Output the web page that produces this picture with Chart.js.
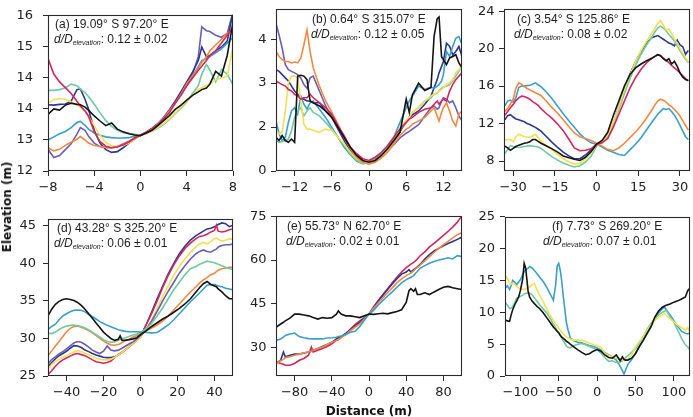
<!DOCTYPE html>
<html><head><meta charset="utf-8">
<script src="https://cdn.jsdelivr.net/npm/chart.js@4.4.0/dist/chart.umd.min.js"></script>
<style>
html,body{margin:0;padding:0;background:#fff;}
#wrap{position:relative;width:693px;height:417px;overflow:hidden;background:#fff;}
#wrap canvas{position:absolute;}
.lab{position:absolute;font-family:"DejaVu Sans",sans-serif;font-weight:bold;font-size:12px;color:#111;white-space:nowrap;line-height:14px;}
#ylab{left:7px;top:207px;transform:translate(-50%,-50%) rotate(-90deg);}
#xlab{left:369px;top:411px;transform:translate(-50%,-50%);}
</style></head><body>
<div id="wrap">
<canvas id="ca"></canvas><canvas id="cb"></canvas><canvas id="cc"></canvas>
<canvas id="cd"></canvas><canvas id="ce"></canvas><canvas id="cf"></canvas>
<div class="lab" id="ylab">Elevation (m)</div>
<div class="lab" id="xlab">Distance (m)</div>
</div>
<script>
// ---------- panel (a) ----------
const xA = [-8,-7.5,-7,-6.5,-6,-5.5,-5.2,-4.8,-4.5,-4,-3.5,-3,-2.5,-2,-1.5,-1,-0.5,0,0.5,1,1.5,2,2.5,3,3.5,4,4.5,5,5.3,5.7,6,6.5,7,7.5,8];
const aBlack = [13.46,13.6,13.57,13.7,13.75,13.72,13.71,13.65,13.57,13.42,13.29,13.17,13.24,13.08,13.01,12.96,12.93,12.91,12.98,13.05,13.17,13.3,13.43,13.59,13.7,13.83,13.95,14.04,14.1,14.14,14.24,14.57,14.45,14.98,15.84];
const aRed = [14.9,14.5,14.3,14.15,14.0,13.8,13.68,13.55,13.42,13.01,12.76,12.64,12.6,12.62,12.68,12.75,12.85,12.93,13.0,13.1,13.2,13.35,13.5,13.75,13.95,14.2,14.4,14.6,14.7,14.85,14.98,15.1,15.3,15.5,15.72];
const aOrange = [12.6,12.52,12.56,12.66,12.74,12.82,12.89,12.8,12.72,12.66,12.63,12.61,12.6,12.63,12.68,12.76,12.84,12.92,12.98,13.08,13.2,13.35,13.55,13.75,13.98,14.25,14.45,14.65,14.8,14.95,15.1,15.25,15.4,15.55,15.65];
const aYellow = [13.75,13.84,13.87,13.85,13.78,13.7,13.65,13.55,13.4,13.17,12.92,12.74,12.65,12.64,12.66,12.72,12.82,12.92,12.97,13.03,13.12,13.22,13.35,13.5,13.65,13.8,13.95,14.1,14.15,14.2,14.25,14.35,14.4,14.45,15.2];
const aGreen = [14.08,14.08,14.1,14.15,14.24,14.2,14.12,14.02,13.92,13.72,13.5,13.3,13.15,13.05,12.99,12.97,12.95,12.93,12.97,13.03,13.1,13.2,13.33,13.48,13.62,13.78,14.0,14.2,14.5,14.75,14.6,14.3,14.62,14.5,14.22];
const aLightBlue = [12.8,12.88,12.96,13.02,13.12,13.25,13.28,13.18,13.08,12.98,12.92,12.88,12.86,12.85,12.85,12.86,12.9,12.93,13.0,13.1,13.22,13.37,13.55,13.75,13.97,14.2,14.45,14.7,14.85,14.9,14.95,15.05,15.15,15.3,15.45];
const aNavy = [13.71,13.7,13.72,13.73,13.8,14.1,14.12,13.85,13.6,13.05,12.72,12.55,12.48,12.5,12.6,12.72,12.83,12.92,13.0,13.1,13.22,13.38,13.58,13.8,14.05,14.3,14.55,14.85,15.2,14.95,14.98,15.1,15.2,15.35,16.1];
const aPurple = [12.56,12.35,12.4,12.55,12.7,12.95,13.12,13.05,12.9,12.72,12.63,12.6,12.6,12.63,12.7,12.77,12.85,12.92,12.98,13.07,13.2,13.35,13.55,13.75,14.0,14.25,14.5,14.95,15.72,15.62,15.6,15.5,15.45,15.55,16.1];
const aXTicks = [-8,-4,0,4,8], aXLabels = ['−8','−4','0','4','8'];
const aYTicks = [12,12.8,13.6,14.4,15.2,16], aYLabels = ['12','13','14','14','15','16'];

// ---------- panel (b) ----------
const xB = [-15,-14.5,-14,-13.5,-13,-12.5,-12,-11.5,-11,-10.5,-10,-9.5,-9,-8,-7,-6,-5,-4,-3,-2,-1,0,1,2,3,4,5,6,6.5,7,8,9,10,10.5,11,11.3,11.7,12,12.5,13,13.5,14,14.5,15];
const bBlack = [1.15,1.04,1.21,1.04,0.98,1.09,0.98,3.24,3.27,3.24,3.12,2.39,2.33, 2.22,2.05,1.83,1.49,1.15,0.81,0.53,0.36,0.3, 0.36,0.53,0.76,1.04,1.32,2.45, 2.0,2.6,3.0,2.75,2.85, 4.6,5.2,5.26,3.9,3.8, 3.63,3.86,3.91,3.97,3.69,3.52];
const bRed = [3.07,3.01,2.95,2.9,2.78,2.73,2.62,2.56,2.45,2.5,2.5,2.62,2.5, 2.33,2.16,1.94,1.54,1.21,0.81,0.59,0.42,0.36, 0.47,0.64,0.87,1.15,1.43,1.66, 1.77,1.83,2.0,2.11,2.16, 2.28,2.39,2.28,2.39,2.45, 2.39,2.73,2.95,3.12,3.24,3.35];
const bOrange = [4.08,3.91,3.8,3.74,3.74,3.69,3.72,3.69,3.86,4.31,4.81,4.08,3.52, 2.9,2.39,2.0,1.6,1.15,0.76,0.47,0.3,0.23, 0.3,0.45,0.64,0.92,1.21,1.43, 1.49,1.6,1.71,1.83,2.05, 2.16,1.88,1.71,2.0,2.16, 2.33,2.05,1.71,1.54,1.94,2.05];
const bYellow = [1.38,1.26,1.32,2.05,3.01,3.24,3.24,3.18,2.39,1.6,1.43,1.43,1.38, 1.32,1.43,1.38,1.15,0.92,0.64,0.42,0.3,0.27, 0.36,0.5,0.7,1.04,1.49,1.71, 1.83,2.0,2.16,2.39,2.56, 2.62,2.67,2.73,2.78,2.84, 2.95,3.01,3.12,3.35,3.46,3.52];
const bGreen = [1.04,0.98,1.01,1.04,1.09,1.38,1.83,2.05,2.16,1.88,2.05,2.16,2.0, 1.88,1.66,1.43,1.15,0.87,0.59,0.36,0.25,0.3, 0.38,0.56,0.79,1.06,1.38,1.69, 1.85,2.0,2.16,2.39,2.5, 2.62,2.67,2.75,2.82,2.86, 2.9,2.95,3.07,3.24,3.4,3.57];
const bLightBlue = [1.71,1.26,1.04,1.15,1.66,2.05,2.16,1.94,2.56,2.28,2.11,2.33,2.39, 2.11,1.83,1.49,1.15,0.81,0.56,0.34,0.25,0.29, 0.41,0.59,0.81,1.15,1.66,2.16, 2.39,2.56,2.9,2.78,2.86, 2.82,2.9,2.95,3.07,3.29, 4.08,3.91,4.25,4.53,4.59,4.31];
const bNavy = [3.46,3.4,3.29,3.18,3.07,2.9,2.73,2.62,2.5,2.45,2.39,2.39,2.33, 2.33,2.05,1.83,1.43,1.04,0.7,0.42,0.27,0.29, 0.36,0.52,0.7,1.01,1.35,1.69, 1.8,1.92,2.05,2.28,2.56, 2.84,3.12,3.35,3.57,3.74, 4.36,4.25,3.97,4.08,4.25,3.91];
const bPurple = [5.04,4.64,4.19,3.63,3.46,3.4,3.35,3.29,3.18,2.95,2.82,3.18,3.24, 2.73,2.22,1.83,1.49,1.09,0.7,0.42,0.3,0.3, 0.41,0.56,0.7,0.9,1.13,1.29, 1.35,1.43,1.58,1.88,2.16, 2.22,2.11,2.16,2.39,2.5, 2.45,2.33,2.39,2.16,1.88,1.71];
const bXTicks = [-12,-6,0,6,12], bXLabels = ['−12','−6','0','6','12'];
const bYTicks = [0,1.5,3,4.5], bYLabels = ['0','2','3','4'];

// ---------- panel (c) ----------
const xC = [-33,-32,-31,-30,-29,-28,-27,-26,-25,-24,-23,-22,-21,-20,-18,-16,-14,-12,-10,-8,-6,-4,-2,0,2,4,6,8,10,12,14,16,18,20,21,22,23,24,25,26,27,28,29,30,31,32,33];
const cBlack = [9.6,9.4,9.15,9.35,9.55,9.7,9.8,9.9,9.95,10.05,10.3,10.3,10.1,9.9, 9.6,9.3,8.95,8.55,8.35,8.2,8.07,8.4,9.0,9.8, 10.2,11.07,12.83,14.41,16.0,17.23,17.94,18.36,18.71,19.0, 19.17,19.35,19.24,18.92,18.71,18.92,18.36,18.64,18.11,17.41,16.95,16.7,16.6];
const cRed = [12.9,13.3,13.7,14.05,14.45,14.75,14.94,14.9,14.75,14.6,14.35,14.15,13.95,13.6, 13.05,12.55,11.95,11.25,10.35,9.4,9.1,9.15,9.3,9.8, 9.95,10.4,11.6,13.0,14.4,15.8,16.9,17.8,18.5,19.0, 19.2,19.35,19.25,19.0,18.75,18.5,18.2,17.95,17.7,17.4,17.1,16.8,16.55];
const cOrange = [13.3,13.6,14.1,14.6,15.8,16.35,16.2,15.95,15.75,15.6,15.45,15.3,15.15,15.0, 14.35,13.7,13.1,12.4,11.7,11.0,10.6,10.4,10.2,9.9, 9.6,9.25,9.1,9.4,9.9,10.5,11.1,11.8,12.6,13.5, 14.0,14.4,14.6,14.5,14.3,14.0,13.8,13.5,13.2,12.8,12.3,11.8,11.3];
const cYellow = [10.25,10.3,10.3,10.05,10.6,10.85,10.75,10.6,10.55,10.55,10.7,10.85,10.5,10.15, 9.6,9.2,8.7,8.25,7.9,7.7,7.75,8.25,8.9,9.8, 10.1,10.8,12.1,13.8,15.6,17.2,18.6,19.8,20.8,21.7, 22.2,22.7,23.0,22.5,22.0,22.1,21.6,21.0,20.6,20.0,19.5,19.0,18.6];
const cGreen = [8.8,9.2,9.65,9.55,9.48,9.45,9.5,9.55,9.6,9.65,9.6,9.55,9.5,9.35, 8.9,8.45,8.1,7.8,7.55,7.37,7.5,7.9,8.5,9.6, 10.0,10.7,11.9,13.5,15.2,16.8,18.2,19.4,20.4,21.3, 21.8,22.2,22.4,22.2,21.9,21.5,21.2,20.8,20.3,19.8,19.3,18.9,18.5];
const cLightBlue = [13.9,14.4,14.5,14.3,14.8,15.85,16.0,16.0,16.05,16.1,16.2,16.35,16.15,15.95, 15.35,14.65,13.85,13.05,12.3,11.6,10.9,10.35,9.95,9.8, 9.5,9.15,8.95,8.7,8.6,9.2,9.8,10.5,11.35,12.2, 12.6,13.0,13.3,13.6,13.5,13.6,13.3,12.9,12.4,11.8,11.2,10.6,10.3];
const cNavy = [12.4,12.85,12.95,12.7,12.5,12.4,12.3,12.2,12.0,11.9,11.75,11.6,11.4,11.2, 10.6,10.0,9.45,8.95,8.55,8.25,8.25,8.65,9.2,9.8, 10.0,10.7,12.0,13.8,15.6,17.3,18.6,19.7,20.6,21.2, 21.3,21.4,21.2,21.0,20.8,20.6,20.5,20.3,20.9,20.4,20.2,19.4,19.8];
const cXTicks = [-30,-15,0,15,30], cXLabels = ['−30','−15','0','15','30'];
const cYTicks = [8,12,16,20,24], cYLabels = ['8','12','16','20','24'];

// ---------- panel (d) ----------
const xD = [-50,-48,-46,-44,-42,-40,-38,-36,-34,-32,-30,-28,-26,-24,-22,-20,-18,-16,-14,-12,-11,-10,-8,-6,-4,-2,0,3,6,9,12,15,18,21,24,27,30,32,34,36,38,40,41,42,44,46,48,50];
const dBlack = [33.0,33.9,34.55,34.95,35.2,35.3,35.2,35.05,34.8,34.4,33.9,33.3,32.7,32.05,31.45,30.85,30.4,30.0,29.75,29.9,30.35,29.75,29.78,29.85,29.95,30.1,30.5, 31.0,31.6,32.1,32.6,33.0,33.5,34.0,34.6,35.3,36.2,36.8,37.3,37.6,37.2,37.0,36.9,36.6,36.2,35.7,35.3,35.3];
const dLightBlue = [31.2,31.6,31.9,32.5,33.0,33.3,33.55,33.75,33.8,33.75,33.55,33.2,32.9,32.6,32.25,32.0,31.75,31.55,31.35,31.15,31.1,31.05,30.95,30.9,30.9,30.9,30.85, 30.8,30.75,30.8,31.3,31.8,32.5,33.3,34.1,34.9,35.6,36.1,36.6,37.1,37.2,37.2,37.1,37.0,36.9,36.7,36.6,36.5];
const dGreen = [30.7,30.65,30.85,31.2,31.45,31.65,31.75,31.8,31.7,31.6,31.4,31.15,30.85,30.5,30.2,29.85,29.6,29.5,29.55,29.75,29.85,29.95,30.1,30.3,30.45,30.6,30.8, 31.3,32.0,33.0,34.1,35.3,36.5,37.5,38.5,39.3,39.6,39.9,40.1,40.3,40.2,40.1,40.0,39.9,39.7,39.5,39.3,39.2];
const dOrange = [27.7,28.35,29.0,29.6,30.25,30.9,31.35,31.6,31.65,31.5,31.3,31.05,30.75,30.4,30.0,29.65,29.35,29.15,29.1,29.2,29.3,29.45,29.7,29.95,30.2,30.4,30.6, 31.0,31.4,31.8,32.3,33.0,33.8,34.6,35.4,36.2,36.9,37.4,37.8,38.1,38.5,38.7,38.9,39.1,39.3,39.4,39.5,39.5];
const dPurple = [26.6,27.2,27.55,27.95,28.25,28.6,29.0,29.4,29.6,29.5,29.2,28.85,28.45,28.2,28.0,28.3,29.0,28.45,28.35,28.45,28.55,28.7,29.0,29.3,29.55,29.95,30.4, 31.2,32.3,33.6,35.0,36.3,37.5,38.7,39.7,40.6,41.3,41.6,41.8,41.6,41.5,41.8,41.9,42.2,42.4,42.5,42.5,42.6];
const dYellow = [25.9,26.55,26.95,27.25,27.5,27.75,27.95,28.2,28.4,28.25,28.05,27.85,27.6,27.4,27.25,27.15,27.15,27.25,27.5,27.8,27.95,28.15,28.55,28.95,29.35,29.75,30.15, 31.3,32.5,34.0,35.6,37.0,38.4,39.6,40.6,41.5,42.2,42.6,42.8,42.6,42.9,43.3,43.4,43.2,43.0,43.1,43.3,43.2];
const dRed = [25.2,25.7,26.3,26.8,27.15,27.4,27.65,27.9,28.0,27.85,27.7,27.45,27.15,26.9,26.8,26.7,26.8,27.0,27.45,27.85,28.0,28.15,28.55,28.95,29.35,29.75,30.2, 31.8,33.3,35.0,36.8,38.4,39.8,41.0,42.0,42.7,43.3,43.6,43.7,43.9,44.2,44.4,45.1,44.3,44.2,44.3,44.5,44.6];
const dNavy = [26.2,26.8,27.3,27.7,28.0,28.3,28.7,29.05,29.0,28.8,28.45,28.25,28.0,27.8,27.65,27.5,27.45,27.45,27.55,27.8,27.95,28.15,28.5,28.95,29.35,29.8,30.3, 31.8,33.5,35.3,37.0,38.6,40.0,41.3,42.3,43.1,43.7,44.0,44.3,44.6,44.7,44.9,45.0,45.2,45.4,45.3,44.9,45.1];
const dXTicks = [-40,-20,0,20,40], dXLabels = ['−40','−20','0','20','40'];
const dYTicks = [25,30,35,40,45], dYLabels = ['25','30','35','40','45'];

// ---------- panel (e) ----------
const xE = [-100,-95,-92,-90,-85,-80,-75,-70,-65,-62,-60,-55,-50,-45,-40,-35,-33,-30,-25,-20,-15,-10,-5,0,5,10,15,20,25,30,35,40,43,45,48,50,52,55,60,65,70,75,80,85,90,95,100];
const eBlack = [37.0,38.1,38.7,39.2,40.1,41.5,41.5,41.2,40.9,40.6, 40.3,39.8,40.3,40.1,40.3,41.5,42.6,41.5,40.9,40.9, 40.6,40.3,40.9,41.5,41.4,41.6,41.8,41.6,42.0,42.4, 43.0,45.5,49.5,50.2,49.3,50.2,48.2,48.2,48.8,48.2, 49.1,49.9,50.7,51.0,50.5,50.2,49.9];
const eLightBlue = [32.5,33.0,33.6,34.2,34.7,35.0,33.8,33.4,33.1,33.0, 33.0,33.0,33.0,33.3,33.4,33.6,33.8,34.0,34.5,35.3, 35.6,37.2,39.4,41.5,42.8,44.6,46.2,47.7,49.1,50.7, 52.2,53.3,53.8,54.1,54.7,55.5,56.1,57.2,58.1,58.9, 59.5,60.0,60.4,60.8,60.4,61.5,61.2];
const eOrange = [24.6,25.5,26.0,26.6,26.9,27.4,27.8,28.2,28.5,28.8, 29.1,29.7,30.2,31.1,31.9,32.5,32.8,33.4,34.5,35.8, 37.0,38.1,39.8,41.5,43.5,45.4,47.1,48.8,50.5,52.2, 53.6,54.7,55.2,55.5,56.3,57.0,57.4,58.3,59.7,61.2, 62.6,64.0,65.3,66.4,67.6,68.7,69.4];
const eNavy = [24.6,25.7,28.5,26.9,27.4,27.8,27.8,28.2,28.5,28.8, 29.1,29.7,30.4,31.1,31.9,33.0,33.4,33.8,34.9,36.1, 37.5,38.7,40.1,41.5,43.7,46.0,48.0,49.9,51.8,53.6, 55.2,55.9,56.7,55.9,56.7,57.2,57.7,58.5,60.4,61.9, 63.1,64.0,64.9,65.7,66.4,67.1,67.9];
const eRed = [25.2,24.6,24.3,24.0,24.0,24.6,25.7,26.3,27.4,30.2, 28.5,29.1,29.7,30.4,31.3,32.5,32.8,33.6,34.7,36.4, 37.9,39.2,40.3,41.5,44.0,46.2,48.2,50.2,52.2,54.1, 55.9,57.4,58.1,58.6,59.2,59.7,60.4,61.5,62.8,64.5, 65.7,67.1,68.5,69.8,71.3,73.0,75.2];
const eXTicks = [-80,-40,0,40,80], eXLabels = ['−80','−40','0','40','80'];
const eYTicks = [30,45,60,75], eYLabels = ['30','45','60','75'];

// ---------- panel (f) ----------
const xF = [-120,-117,-114,-112,-110,-107,-105,-102,-100,-97,-95,-93,-90,-88,-85,-82,-80,-78,-75,-70,-65,-60,-57,-54,-52,-50,-48,-46,-44,-42,-40,-38,-35,-30,-25,-20,-15,-10,-5,0,5,10,15,20,25,30,33,35,37,40,45,50,55,60,65,70,75,80,85,88,90,95,100,105,110,115,118,120];
const fBlack = [8.85,8.65,8.6,9.6,10.4,11.27,11.7,12.5,13.4,15.2, 17.7,16.9,13.4,12.4,11.8,11.4,11.15,10.9,10.6,9.9, 9.05,8.2,7.7,7.3,7.0,6.8,6.4,6.1,5.9,5.7, 5.45,5.3,5.0,4.55,4.1,3.7,3.35,3.5,3.9,4.15, 3.9,3.3,2.9,2.8,3.3,2.4,3.0,2.6,2.5,2.5, 2.8,3.5,4.6,5.6,6.7,7.7,9.2,10.2,10.8,11.0, 11.1,11.3,11.6,11.8,12.1,12.4,13.4,13.7];
const fYellow = [15.8,15.4,14.4,14.4,14.6,14.4,14.1,13.8,13.7,13.6, 13.6,13.7,13.8,14.0,14.3,14.5,14.0,13.4,12.7,11.6, 10.4,9.3,8.7,8.2,7.9,7.5,7.2,6.9,6.6,6.4, 6.15,6.0,5.8,5.6,5.65,5.6,5.4,5.15,4.95,4.75, 4.5,3.6,3.2,3.0,2.8,2.7,2.5,2.4,2.5,2.7, 3.3,4.6,5.4,6.2,7.1,8.0,8.7,9.2,9.6,9.8, 9.5,9.0,8.5,8.0,7.6,7.2,7.6,7.1];
const fGreen = [11.6,11.15,10.6,10.65,10.9,11.6,12.2,12.35,12.5,12.7, 12.85,13.0,13.05,13.0,12.8,12.3,12.0,11.7,11.2,10.5, 9.8,8.8,8.2,7.5,7.1,6.7,6.3,5.9,5.5,5.1, 4.7,4.5,4.4,4.8,5.0,5.1,4.9,4.65,4.4,4.15, 3.6,2.9,2.3,2.4,2.1,2.2,2.4,2.6,2.9,3.2, 3.7,4.3,5.2,6.2,7.3,8.2,8.9,9.6,10.0,10.2, 10.3,9.3,8.4,7.2,5.9,4.9,4.6,4.2];
const fLightBlue = [13.7,14.2,13.6,14.2,15.0,14.7,14.3,14.8,15.1,15.9, 16.4,16.7,16.9,17.15,17.0,16.6,16.35,16.0,15.55,14.8, 13.8,12.6,11.9,14.3,17.3,17.7,16.6,14.8,12.4,10.4, 8.4,7.3,6.0,5.5,5.3,5.2,5.0,4.8,4.65,4.4, 4.1,3.7,3.3,3.0,2.5,1.5,0.8,0.3,0.9,1.8, 2.6,3.6,4.7,5.6,6.6,7.7,8.9,9.9,10.6,10.8, 10.4,9.6,8.7,7.8,7.0,6.7,6.6,6.7];
const fXTicks = [-100,-50,0,50,100], fXLabels = ['−100','−50','0','50','100'];
const fYTicks = [0,5,10,15,20,25], fYLabels = ['0','5','10','15','20','25'];

// ---------- labels ----------
const panelTags = ['(a) 19.09° S 97.20° E','(b) 0.64° S 315.07° E','(c) 3.54° S 125.86° E','(d) 43.28° S 325.20° E','(e) 55.73° N 62.70° E','(f) 7.73° S 269.20° E'];
const ddValues = ['0.12 ± 0.02','0.12 ± 0.05','0.08 ± 0.02','0.06 ± 0.01','0.02 ± 0.01','0.07 ± 0.01'];

// ---------- styles ----------
const COL = {black:'#141414', red:'#d7265b', orange:'#f4883f', yellow:'#f3df52', green:'#6fcaa2', lightblue:'#3a9fcb', navy:'#2a3890', purple:'#6b5db7'};
const TICKFONT = {family:'"DejaVu Sans", sans-serif', size:13};
const PADL = 45, PADT = 10, PADR = 15, PADB = 30;

const panels = [
  {id:'ca', L:48, T:7, W:185, H:164, x:xA, xr:[-8,8], yr:[12,16.03], xt:aXTicks, xl:aXLabels, yt:aYTicks, yl:aYLabels, tx1:7, tx2:6, ypad:10,
   s:[[aBlack,'black'],[aRed,'red'],[aOrange,'orange'],[aYellow,'yellow'],[aGreen,'green'],[aLightBlue,'lightblue'],[aNavy,'navy'],[aPurple,'purple']]},
  {id:'cb', L:276, T:7, W:186, H:164, x:xB, xr:[-15,15], yr:[0,5.52], xt:bXTicks, xl:bXLabels, yt:bYTicks, yl:bYLabels, tx1:36, tx2:35, ypad:4.5,
   s:[[bBlack,'black'],[bRed,'red'],[bOrange,'orange'],[bYellow,'yellow'],[bGreen,'green'],[bLightBlue,'lightblue'],[bNavy,'navy'],[bPurple,'purple']]},
  {id:'cc', L:504, T:7, W:186, H:164, x:xC, xr:[-33.3,33.6], yr:[6.94,24.2], xt:cXTicks, xl:cXLabels, yt:cYTicks, yl:cYLabels, tx1:13, tx2:10, ypad:4.5,
   s:[[cBlack,'black'],[cRed,'red'],[cOrange,'orange'],[cYellow,'yellow'],[cGreen,'green'],[cLightBlue,'lightblue'],[cNavy,'navy']]},
  {id:'cd', L:48, T:214, W:185, H:162, x:xD, xr:[-50,50], yr:[25,45.95], xt:dXTicks, xl:dXLabels, yt:dYTicks, yl:dYLabels, tx1:9, tx2:6, ypad:7,
   s:[[dBlack,'black'],[dLightBlue,'lightblue'],[dGreen,'green'],[dOrange,'orange'],[dPurple,'purple'],[dYellow,'yellow'],[dRed,'red'],[dNavy,'navy']]},
  {id:'ce', L:276, T:214, W:186, H:162, x:xE, xr:[-100,100], yr:[20.3,75], xt:eXTicks, xl:eXLabels, yt:eYTicks, yl:eYLabels, tx1:11, tx2:10, ypad:4.5,
   s:[[eBlack,'black'],[eLightBlue,'lightblue'],[eOrange,'orange'],[eNavy,'navy'],[eRed,'red']]},
  {id:'cf', L:505, T:214, W:185, H:162, x:xF, xr:[-120,121], yr:[0,25], xt:fXTicks, xl:fXLabels, yt:fYTicks, yl:fYLabels, tx1:47, tx2:38, ypad:5,
   s:[[fBlack,'black'],[fYellow,'yellow'],[fGreen,'green'],[fLightBlue,'lightblue']]}
];

const framePlugin = {
  id:'frame',
  afterDatasetsDraw(chart){
    const a = chart.chartArea, ctx = chart.ctx;
    ctx.save(); ctx.strokeStyle = '#2a2a2a'; ctx.lineWidth = 1.1;
    ctx.strokeRect(Math.round(a.left)+0.5, Math.round(a.top)+0.5, Math.round(a.right-a.left)-1, Math.round(a.bottom-a.top)-1);
    ctx.restore();
  }
};

function makeAnnot(idx, p){
  return {
    id:'annot'+idx,
    afterDraw(chart){
      const a = chart.chartArea, ctx = chart.ctx;
      ctx.save();
      ctx.fillStyle = '#1e1e1e'; ctx.textBaseline = 'middle'; ctx.textAlign = 'left';
      ctx.font = '12px "Liberation Sans", Arial, sans-serif';
      ctx.fillText(panelTags[idx], a.left + p.tx1, a.top + 10);
      let x = a.left + p.tx2; const y = a.top + 25;
      ctx.font = 'italic 12px "Liberation Sans", Arial, sans-serif';
      ctx.fillText('d/D', x, y); x += ctx.measureText('d/D').width;
      ctx.font = 'italic 7px "Liberation Sans", Arial, sans-serif';
      ctx.fillText('elevation', x, y + 3.5); x += ctx.measureText('elevation').width;
      ctx.font = '12px "Liberation Sans", Arial, sans-serif';
      ctx.fillText(': ' + ddValues[idx], x, y);
      ctx.restore();
    }
  };
}

panels.forEach((p, idx) => {
  const cv = document.getElementById(p.id);
  const cw = PADL + p.W + PADR, ch = PADT + p.H + PADB;
  cv.width = cw; cv.height = ch;
  cv.style.width = cw + 'px'; cv.style.height = ch + 'px';
  cv.style.left = (p.L - PADL) + 'px'; cv.style.top = (p.T - PADT) + 'px';
  const datasets = p.s.map(([vals, key]) => ({
    data: p.x.map((xv, i) => ({x: xv, y: vals[i]})),
    borderColor: COL[key], borderWidth: 1.6, pointRadius: 0, tension: 0, fill: false
  }));
  const axisCommon = {
    type:'linear', grace:0,
    grid:{drawOnChartArea:false, drawTicks:true, tickLength:5, color:'#2a2a2a', lineWidth:1},
    border:{display:false}
  };
  new Chart(cv, {
    type:'line',
    data:{datasets},
    options:{
      responsive:false, animation:false, events:[], devicePixelRatio:1,
      layout:{padding:{left:0, top:PADT, right:PADR, bottom:0}},
      plugins:{legend:{display:false}, tooltip:{enabled:false}},
      scales:{
        x:Object.assign({}, axisCommon, {
          min:p.xr[0], max:p.xr[1],
          afterBuildTicks: ax => { ax.ticks = p.xt.map(v => ({value:v})); },
          ticks:{callback:(v, i) => p.xl[i], autoSkip:false, maxRotation:0, padding:4, font:TICKFONT, color:'#222'},
          afterFit: s => { s.height = PADB; }
        }),
        y:Object.assign({}, axisCommon, {
          min:p.yr[0], max:p.yr[1],
          afterBuildTicks: ax => { ax.ticks = p.yt.map(v => ({value:v})); },
          ticks:{callback:(v, i) => p.yl[i], autoSkip:false, padding:p.ypad, font:TICKFONT, color:'#222'},
          afterFit: s => { s.width = PADL; }
        })
      }
    },
    plugins:[framePlugin, makeAnnot(idx, p)]
  });
});
</script>
</body></html>
